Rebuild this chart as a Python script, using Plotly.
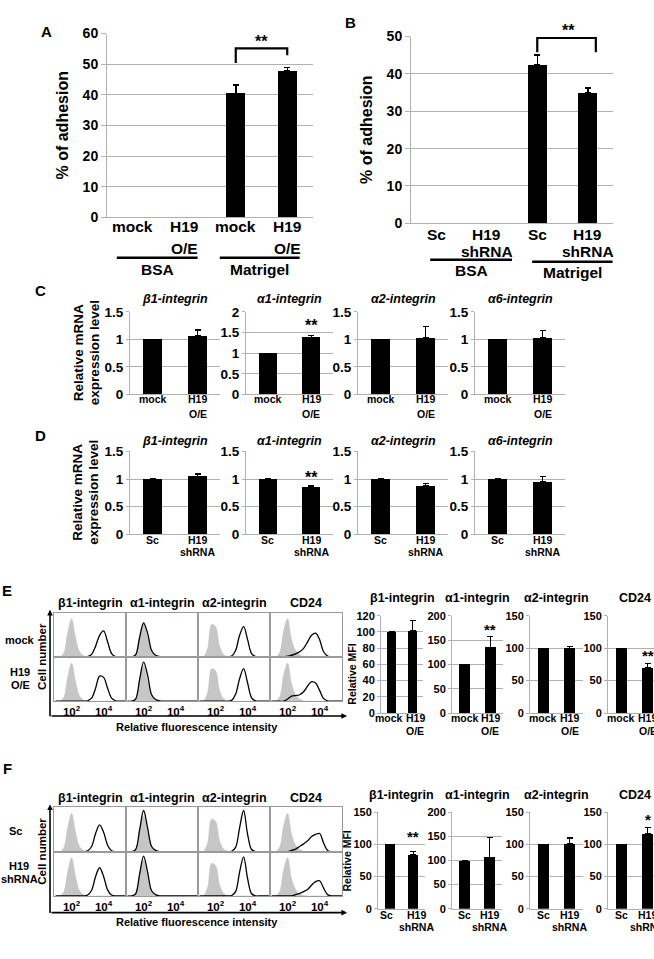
import plotly.graph_objects as go

W, H = 654, 959
SANS = "Arial, 'Liberation Sans', Helvetica, sans-serif"
GRID = "#b0b0b0"

# ---------------- DATA ----------------
# Panel A: adhesion, H19 over-expression
A_labels = ["mock", "H19<br>O/E", "mock", "H19<br>O/E"]
A_values = [0, 0, 40.5, 47.8]
A_errors = [0, 0, 2.7, 1.2]
# Panel B: adhesion, H19 knock-down
B_labels = ["Sc", "H19<br>shRNA", "Sc", "H19<br>shRNA"]
B_values = [0, 0, 42.5, 35.0]
B_errors = [0, 0, 2.5, 1.2]
groups = ["BSA", "Matrigel"]

integrins_CD = ["β1-integrin", "α1-integrin", "α2-integrin", "α6-integrin"]
C_labels = ["mock", "H19<br>O/E"]
C_ctrl = [1.0, 1.0, 1.0, 1.0]
C_h19 = [1.06, 1.38, 1.03, 1.03]
C_h19_err = [0.11, 0.04, 0.21, 0.13]
C_ymax = [1.5, 2.0, 1.5, 1.5]
D_labels = ["Sc", "H19<br>shRNA"]
D_ctrl = [1.0, 1.0, 1.0, 1.0]
D_h19 = [1.05, 0.86, 0.88, 0.95]
D_h19_err = [0.04, 0.02, 0.04, 0.10]

markers_EF = ["β1-integrin", "α1-integrin", "α2-integrin", "CD24"]
E_labels = ["mock", "H19<br>O/E"]
E_ctrl = [100, 100, 100, 100]
E_h19 = [101, 135, 100, 70]
E_h19_err = [13, 23, 2, 6]
E_ymax = [120, 200, 150, 150]
E_dtick = [20, 50, 50, 50]
F_labels = ["Sc", "H19<br>shRNA"]
F_ctrl = [100, 100, 100, 100]
F_h19 = [84, 107, 101, 117]
F_h19_err = [5, 41, 9, 10]
F_ymax = [150, 200, 150, 150]
F_dtick = [50, 50, 50, 50]

# Flow histograms: log10 fluorescence grid and relative cell counts
log_fl = [1.0, 1.25, 1.5, 1.75, 2.0, 2.25, 2.5, 2.75, 3.0, 3.25,
          3.5, 3.75, 4.0, 4.25, 4.5, 4.75, 5.0, 5.25, 5.5]
iso_b1 = [0, 0, 0.08, 0.55, 0.88, 0.45, 0.12, 0.03, 0, 0, 0, 0, 0, 0, 0, 0, 0, 0, 0]
iso_a1 = [0, 0, 0.06, 0.5, 0.82, 0.45, 0.12, 0.03, 0, 0, 0, 0, 0, 0, 0, 0, 0, 0, 0]
iso_a2 = [0, 0.01, 0.2, 0.75, 0.7, 0.25, 0.06, 0.01, 0, 0, 0, 0, 0, 0, 0, 0, 0, 0, 0]
iso_cd24 = [0, 0, 0.1, 0.6, 0.88, 0.4, 0.15, 0.05, 0.01, 0, 0, 0, 0, 0, 0, 0, 0, 0, 0]
E_mock_b1 = [0, 0, 0, 0, 0, 0, 0, 0, 0.01, 0.06, 0.25, 0.5, 0.6, 0.35, 0.08, 0.01, 0, 0, 0]
E_mock_a1 = [0, 0, 0.05, 0.45, 0.78, 0.55, 0.15, 0.04, 0.01, 0, 0, 0, 0, 0, 0, 0, 0, 0, 0]
E_mock_a2 = [0, 0, 0, 0, 0, 0, 0, 0, 0.02, 0.15, 0.5, 0.7, 0.4, 0.08, 0.01, 0, 0, 0, 0]
E_mock_cd24 = [0, 0, 0, 0, 0.02, 0.04, 0.07, 0.12, 0.2, 0.35, 0.5, 0.55, 0.4, 0.12, 0.02, 0, 0, 0, 0]
E_h19_b1 = [0, 0, 0, 0, 0, 0, 0, 0, 0.01, 0.07, 0.3, 0.58, 0.55, 0.3, 0.07, 0.01, 0, 0, 0]
E_h19_a1 = [0, 0, 0.05, 0.5, 0.9, 0.6, 0.15, 0.04, 0.01, 0, 0, 0, 0, 0, 0, 0, 0, 0, 0]
E_h19_a2 = [0, 0, 0, 0, 0, 0, 0, 0, 0.02, 0.16, 0.52, 0.75, 0.42, 0.08, 0.01, 0, 0, 0, 0]
E_h19_cd24 = [0, 0, 0, 0, 0.05, 0.12, 0.13, 0.15, 0.22, 0.35, 0.45, 0.42, 0.25, 0.06, 0.01, 0, 0, 0, 0]
F_sc_b1 = [0, 0, 0, 0, 0, 0, 0, 0, 0.02, 0.12, 0.42, 0.62, 0.45, 0.15, 0.02, 0, 0, 0, 0]
F_sc_a1 = [0, 0, 0.05, 0.5, 0.95, 0.55, 0.12, 0.03, 0, 0, 0, 0, 0, 0, 0, 0, 0, 0, 0]
F_sc_a2 = [0, 0, 0, 0, 0, 0, 0, 0, 0.01, 0.1, 0.55, 0.95, 0.4, 0.05, 0, 0, 0, 0, 0]
F_sc_cd24 = [0, 0, 0, 0, 0, 0.03, 0.06, 0.12, 0.18, 0.25, 0.35, 0.4, 0.42, 0.2, 0.03, 0, 0, 0, 0]
F_h19_b1 = [0, 0, 0, 0, 0, 0, 0, 0, 0.02, 0.13, 0.45, 0.65, 0.45, 0.14, 0.02, 0, 0, 0, 0]
F_h19_a1 = [0, 0, 0.05, 0.5, 0.92, 0.55, 0.12, 0.03, 0, 0, 0, 0, 0, 0, 0, 0, 0, 0, 0]
F_h19_a2 = [0, 0, 0, 0, 0, 0, 0, 0, 0.01, 0.1, 0.55, 0.9, 0.4, 0.05, 0, 0, 0, 0, 0]
F_h19_cd24 = [0, 0, 0, 0, 0, 0, 0.03, 0.06, 0.1, 0.15, 0.25, 0.33, 0.35, 0.18, 0.03, 0, 0, 0, 0]

iso_curves = [iso_b1, iso_a1, iso_a2, iso_cd24]
E_rows = [("mock", [E_mock_b1, E_mock_a1, E_mock_a2, E_mock_cd24]),
          ("H19<br>O/E", [E_h19_b1, E_h19_a1, E_h19_a2, E_h19_cd24])]
F_rows = [("Sc", [F_sc_b1, F_sc_a1, F_sc_a2, F_sc_cd24]),
          ("H19<br>shRNA", [F_h19_b1, F_h19_a1, F_h19_a2, F_h19_cd24])]

# ---------------- FIGURE ----------------
fig = go.Figure()
layout = {}
annotations = []
shapes = []
counter = [0]


def px_x(x):
    return x / W


def px_y(y):
    return 1 - y / H


def new_axes(x0, x1, ytop, ybot):
    counter[0] += 1
    n = counter[0]
    xa = "xaxis" if n == 1 else f"xaxis{n}"
    ya = "yaxis" if n == 1 else f"yaxis{n}"
    xr = "x" if n == 1 else f"x{n}"
    yr = "y" if n == 1 else f"y{n}"
    layout[xa] = dict(domain=[px_x(x0), px_x(min(x1, W))], anchor=yr, fixedrange=True)
    layout[ya] = dict(domain=[px_y(ybot), px_y(ytop)], anchor=xr, fixedrange=True)
    return xa, ya, xr, yr


def text(t, x, y, size, bold=True, italic=False, angle=0, xanchor="center",
         xref="paper"):
    annotations.append(dict(
        text=t, x=px_x(x) if xref == "paper" else x, y=px_y(y), xref=xref,
        yref="paper", showarrow=False, xanchor=xanchor, yanchor="middle",
        textangle=angle,
        font=dict(family=SANS, size=size, color="black",
                  weight="bold" if bold else "normal",
                  style="italic" if italic else "normal")))


def bar_panel(x0, x1, ytop, ybot, labels, vals, errs, ymax, dtick, tick_size,
              lab_size, lab_y, bar_w, cap, err_th=1.2, ticklen=4, lab_dx=0.0):
    xa, ya, xr, yr = new_axes(x0, x1, ytop, ybot)
    xs = list(range(len(vals)))
    n = len(vals)
    frac = min(1.0, (W - x0) / (x1 - x0))
    fig.add_trace(go.Bar(
        x=xs, y=vals, xaxis=xr, yaxis=yr, width=bar_w,
        marker=dict(color="black", line=dict(width=0)),
        error_y=dict(type="data", array=errs, arrayminus=[0] * len(errs),
                     symmetric=False, color="black", thickness=err_th, width=cap),
        showlegend=False, hoverinfo="skip"))
    layout[xa].update(range=[-0.5, -0.5 + n * frac], showticklabels=False,
                      showgrid=False, showline=True, linecolor=GRID, linewidth=1,
                      ticks="", zeroline=False)
    layout[ya].update(range=[0, ymax], dtick=dtick, showgrid=True, gridcolor=GRID,
                      gridwidth=1, showline=True, linecolor=GRID, linewidth=1,
                      ticks="outside", ticklen=ticklen, tickcolor=GRID,
                      tickfont=dict(family=SANS, size=tick_size, color="black",
                                    weight="bold"),
                      zeroline=False)
    # category labels, one text per line
    for i, lab in enumerate(labels):
        shift = -lab_dx if i == 0 else lab_dx
        for j, line in enumerate(lab.split("<br>")):
            text(line, i + shift, lab_y[j], lab_size, xref=xr)

    def vy(v):  # value -> figure pixel through the panel's scale
        return ybot - v / ymax * (ybot - ytop)
    return xr, yr, vy


def hist_panel(x0, x1, ytop, ybot, iso, stain, show_ticks):
    xa, ya, xr, yr = new_axes(x0, x1, ytop, ybot)
    fig.add_trace(go.Scatter(
        x=log_fl, y=iso, xaxis=xr, yaxis=yr, mode="lines", fill="tozeroy",
        fillcolor="#c6c6c6", line=dict(color="#c6c6c6", width=0.5, shape="spline"),
        showlegend=False, hoverinfo="skip"))
    fig.add_trace(go.Scatter(
        x=log_fl, y=stain, xaxis=xr, yaxis=yr, mode="lines",
        line=dict(color="black", width=1.3, shape="spline"),
        showlegend=False, hoverinfo="skip"))
    layout[xa].update(range=[0.9, 5.4], showline=True, mirror=True, linecolor="#9a9a9a",
                      linewidth=1, showgrid=False, zeroline=False, ticks="",
                      tickvals=[2, 4] if show_ticks else [],
                      ticktext=["10<sup>2</sup>", "10<sup>4</sup>"],
                      tickfont=dict(family=SANS, size=11.5, color="black", weight="bold"),
                      tickangle=0)
    layout[ya].update(range=[0, 1.02], showline=True, mirror=True, linecolor="#9a9a9a",
                      linewidth=1, showgrid=False, zeroline=False, showticklabels=False,
                      ticks="")


def star(s, xr, xi, ypx, size=16):
    annotations.append(dict(text=s, x=xi, y=px_y(ypx), xref=xr, yref="paper",
                            showarrow=False, yanchor="middle",
                            font=dict(family=SANS, size=size, weight="bold",
                                      color="black")))


# ---- Panels A and B ----
for (x0, x1, ytop, ybot, labels, vals, errs, ymax, letter, lx, ly, brk, st,
     lab_y, grp) in [
    (107, 313, 26, 213, A_labels, A_values, A_errors, 60, "A", 46, 24,
     [(2, 50.4), (2, 55.2), (3, 55.2), (3, 52.9)], (2.5, 57.5), [222, 245],
     [(-0.31, 1.26, 254, 266), (1.69, 3.24, 254, 266)]),
    (411, 613, 29, 219, B_labels, B_values, B_errors, 50, "B", 350, 15,
     [(2, 45.8), (2, 49.6), (3.16, 49.6), (3.16, 45.8)], (2.62, 51.7), [230, 248],
     [(-0.12, 1.50, 256, 267), (1.90, 3.49, 258, 269)]),
]:
    xr, yr, vy = bar_panel(x0, x1, ytop, ybot, labels, vals, errs, ymax, 10, 14,
                           15.5, lab_y, 0.37, 3, err_th=1.5, ticklen=5)
    path = "M " + " L ".join(f"{px},{py}" for px, py in brk)
    shapes.append(dict(type="path", path=path, xref=xr, yref=yr,
                       line=dict(color="black", width=2.2)))
    star("**", xr, st[0], vy(st[1]))
    for (gx0, gx1, gy, ty), g in zip(grp, groups):
        shapes.append(dict(type="line", xref=xr, yref="paper", x0=gx0, x1=gx1,
                           y0=px_y(gy), y1=px_y(gy), line=dict(color="black", width=2.5)))
        text(g, (gx0 + gx1) / 2, ty, 15.5, xref=xr)
    text(letter, lx, ly, 15)
    text("% of adhesion", x0 - 44, (ytop + ybot) / 2, 16, angle=-90)

# ---- Panels C and D ----
cd_x = [(130, 220), (246, 333), (358, 448), (475, 565)]
for (ytop, ybot, labels, ctrl, h19, err, ymaxs, letter, ly, ty, lab_y, stars) in [
    (309, 393, C_labels, C_ctrl, C_h19, C_h19_err, C_ymax, "C", 287, 296,
     [398, 413], {1: 1.66}),
    (451, 535, D_labels, D_ctrl, D_h19, D_h19_err, [1.5] * 4, "D", 435, 440,
     [541, 553], {1: 1.03}),
]:
    for i, (x0, x1) in enumerate(cd_x):
        xr, yr, vy = bar_panel(x0, x1, ytop, ybot, labels, [ctrl[i], h19[i]],
                               [0, err[i]], ymaxs[i], 0.5, 13.5, 10.5, lab_y, 0.42, 3,
                               err_th=1.2, ticklen=3)
        text(integrins_CD[i], (x0 + x1) / 2, ty, 12.5, italic=True)
        if i in stars:
            star("**", xr, 1, vy(stars[i]))
    text(letter, 40, ly, 15)
    text("Relative mRNA", 78, (ytop + ybot) / 2, 13.5, angle=-90)
    text("expression level", 94, (ytop + ybot) / 2, 13.5, angle=-90)

# ---- Panels E and F: flow histograms ----
h_cols = [(54, 126), (126, 198), (198, 270), (270, 342)]
for (top, mid, bot, rows, axis_y, label_y, letter, ly, ty, rowlab) in [
    (615, 660, 705, E_rows, 720, 731, "E", 592, 605,
     [(20, [643]), (20, [675, 688])]),
    (813, 858, 903, F_rows, 920, 930, "F", 773, 803,
     [(15, [837]), (19, [873, 886])]),
]:
    for r, (rname, curves) in enumerate(rows):
        yt, yb = (top, mid) if r == 0 else (mid, bot)
        for c, (x0, x1) in enumerate(h_cols):
            hist_panel(x0, x1, yt, yb, iso_curves[c], curves[c], r == 1)
        rx, rys = rowlab[r]
        for line, ry in zip(rname.split("<br>"), rys):
            text(line, rx, ry, 11)
    for c, (x0, x1) in enumerate(h_cols):
        text(markers_EF[c], (x0 + x1) / 2, ty, 12.5)
    # axes with arrow heads
    annotations.append(dict(x=px_x(50), y=px_y(top - 3), xref="paper", yref="paper",
                            ax=0, ay=axis_y - top + 3, axref="pixel", ayref="pixel",
                            text="", showarrow=True, arrowhead=2, arrowsize=0.7,
                            arrowwidth=1.6, arrowcolor="black"))
    annotations.append(dict(x=px_x(347), y=px_y(axis_y), xref="paper", yref="paper",
                            ax=-(347 - 50), ay=0, axref="pixel", ayref="pixel",
                            text="", showarrow=True, arrowhead=2, arrowsize=0.7,
                            arrowwidth=1.6, arrowcolor="black"))
    text("Cell number", 42, (top + bot) / 2, 11.5, angle=-90)
    text("Relative fluorescence intensity", 197, label_y, 11)
    text(letter, 7, ly, 15)

# ---- Panels E and F: MFI bars ----
for (ytop, ybot, labels, ctrl, h19, err, ymaxs, dticks, xs, ty, ttl, lab_y, stars) in [
    (618, 717, E_labels, E_ctrl, E_h19, E_h19_err, E_ymax, E_dtick,
     [(381, 423), (452, 503), (530, 583), (608, 661)], 600, (352, 677), [722, 735],
     {1: ("**", 172), 3: ("**", 88)}),
    (818, 916, F_labels, F_ctrl, F_h19, F_h19_err, F_ymax, F_dtick,
     [(378, 425), (452, 502), (530, 583), (608, 661)], 800, (347, 868), [922, 935],
     {0: ("**", 113), 3: ("*", 139)}),
]:
    for i, (x0, x1) in enumerate(xs):
        xr, yr, vy = bar_panel(x0, x1, ytop, ybot, labels, [ctrl[i], h19[i]],
                               [0, err[i]], ymaxs[i], dticks[i], 11, 10.5, lab_y, 0.42, 3,
                               err_th=1.2, ticklen=3, lab_dx=0.13 if i == 0 else 0.0)
        text(markers_EF[i], (x0 + x1) / 2, ty, 12.5)
        if i in stars:
            s, v = stars[i]
            star(s, xr, 1, vy(v), size=15)
    text("Relative MFI", ttl[0], ttl[1], 10.5, angle=-90)

layout.update(dict(
    width=W, height=H, autosize=False,
    margin=dict(l=0, r=0, t=0, b=0, pad=0),
    paper_bgcolor="white", plot_bgcolor="white",
    showlegend=False, bargap=0,
    font=dict(family=SANS, color="black"),
    annotations=annotations, shapes=shapes,
))
fig.update_layout(**layout)
fig.write_html("out.html", config={"staticPlot": True})
